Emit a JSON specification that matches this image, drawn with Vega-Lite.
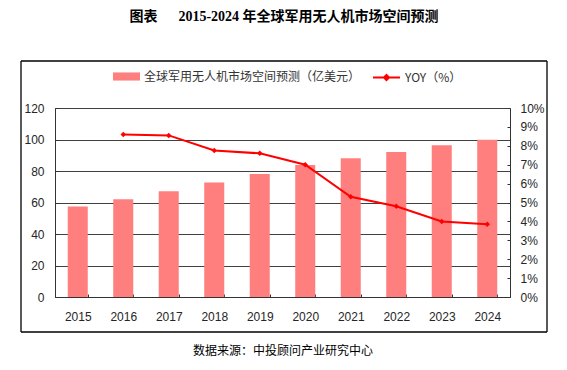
{
  "$schema": "https://vega.github.io/schema/vega-lite/v6.json",
  "width": 526,
  "height": 271,
  "autosize": {"type": "none"},
  "padding": {"left": 21, "top": 61, "right": 20, "bottom": 38},
  "background": "white",
  "title": {
    "text": "图表\u3000\u00a0\u00a02015-2024 年全球军用无人机市场空间预测",
    "anchor": "middle",
    "frame": "group",
    "fontSize": 14,
    "fontWeight": "bold",
    "font": "Liberation Serif, Noto Sans CJK SC",
    "color": "black",
    "offset": 36
  },
  "config": {
    "view": {"stroke": null},
    "axis": {
      "labelFont": "Liberation Sans",
      "labelFontSize": 12,
      "labelColor": "#262626",
      "domainColor": "#333333",
      "tickColor": "#333333",
      "domainWidth": 1,
      "tickWidth": 1
    },
    "legend": {
      "labelFont": "Noto Sans CJK SC",
      "labelFontSize": 12,
      "labelColor": "#333333",
      "labelLimit": 0,
      "padding": 0
    }
  },
  "layer": [
    {
      "data": {
        "values": [
          {"year": "2015", "market": 57.5, "yoy": null},
          {"year": "2016", "market": 62.0, "yoy": 8.6},
          {"year": "2017", "market": 67.2, "yoy": 8.55},
          {"year": "2018", "market": 72.7, "yoy": 7.75},
          {"year": "2019", "market": 78.1, "yoy": 7.6},
          {"year": "2020", "market": 83.8, "yoy": 7.0},
          {"year": "2021", "market": 88.1, "yoy": 5.3},
          {"year": "2022", "market": 92.0, "yoy": 4.8},
          {"year": "2023", "market": 96.3, "yoy": 4.0},
          {"year": "2024", "market": 99.8, "yoy": 3.85}
        ]
      },
      "encoding": {
        "x": {
          "field": "year",
          "type": "ordinal",
          "scale": {"range": [34, 489], "paddingInner": 0.56, "paddingOuter": 0.28},
          "axis": {
            "orient": "bottom",
            "offset": -35,
            "tickBand": "extent",
            "tickSize": -3,
            "labelPadding": 17,
            "labelAngle": 0,
            "grid": false,
            "title": "数据来源：中投顾问产业研究中心",
            "titleFont": "Noto Sans CJK SC",
            "titleFontSize": 12,
            "titleFontWeight": "normal",
            "titleColor": "black",
            "titlePadding": 23
          }
        }
      },
      "layer": [
        {
          "mark": {"type": "bar"},
          "encoding": {
            "y": {
              "field": "market",
              "type": "quantitative",
              "scale": {"domain": [0, 120], "range": [236, 47], "nice": false},
              "axis": {
                "orient": "left",
                "offset": -34,
                "values": [0, 20, 40, 60, 80, 100, 120],
                "grid": true,
                "gridColor": "#404040",
                "gridWidth": 1,
                "tickSize": -3,
                "labelPadding": 14,
                "title": null
              }
            },
            "fill": {
              "datum": "全球军用无人机市场空间预测（亿美元）",
              "scale": {"range": ["#FF7F7F"]},
              "legend": {
                "orient": "none",
                "legendX": 92,
                "legendY": 2,
                "title": null,
                "symbolType": "M-1,-0.3H1V0.3H-1Z",
                "symbolSize": 729,
                "symbolStrokeWidth": 0,
                "labelOffset": 4
              }
            }
          }
        },
        {
          "encoding": {
            "y": {
              "field": "yoy",
              "type": "quantitative",
              "scale": {"domain": [0, 10], "range": [236, 47], "nice": false},
              "axis": {
                "orient": "right",
                "offset": -37,
                "values": [0, 1, 2, 3, 4, 5, 6, 7, 8, 9, 10],
                "labelExpr": "datum.value + '%'",
                "grid": false,
                "tickSize": -3,
                "labelPadding": 13,
                "title": null
              }
            }
          },
          "layer": [
            {
              "mark": {"type": "line", "strokeWidth": 2},
              "encoding": {
                "stroke": {
                  "datum": "YOY（%）",
                  "scale": {"range": ["#FF0000"]},
                  "legend": {
                    "orient": "none",
                    "legendX": 351,
                    "legendY": 2,
                    "title": null,
                    "symbolType": "M-1,0H1M0,-0.19L0.19,0L0,0.19L-0.19,0Z",
                    "symbolSize": 729,
                    "symbolStrokeWidth": 2,
                    "labelOffset": 4
                  }
                }
              }
            },
            {
              "mark": {"type": "point", "shape": "diamond", "filled": true, "color": "#FF0000", "size": 30, "opacity": 1},
              "encoding": {}
            }
          ]
        }
      ],
      "resolve": {"scale": {"y": "independent"}}
    },
    {
      "data": {
        "values": [
          {"fx0": 0, "fx1": 1, "fy0": 0, "fy1": 0},
          {"fx0": 0, "fx1": 1, "fy0": 1, "fy1": 1},
          {"fx0": 0, "fx1": 0, "fy0": 0, "fy1": 1},
          {"fx0": 1, "fx1": 1, "fy0": 0, "fy1": 1}
        ]
      },
      "mark": {"type": "rule", "color": "black", "strokeWidth": 1.3, "clip": false},
      "encoding": {
        "x": {"field": "fx0", "type": "quantitative", "scale": {"domain": [0, 1], "nice": false, "zero": false}, "axis": null},
        "x2": {"field": "fx1"},
        "y": {"field": "fy0", "type": "quantitative", "scale": {"domain": [0, 1], "nice": false, "zero": false}, "axis": null},
        "y2": {"field": "fy1"}
      }
    }
  ],
  "resolve": {"scale": {"x": "independent", "y": "independent"}}
}
